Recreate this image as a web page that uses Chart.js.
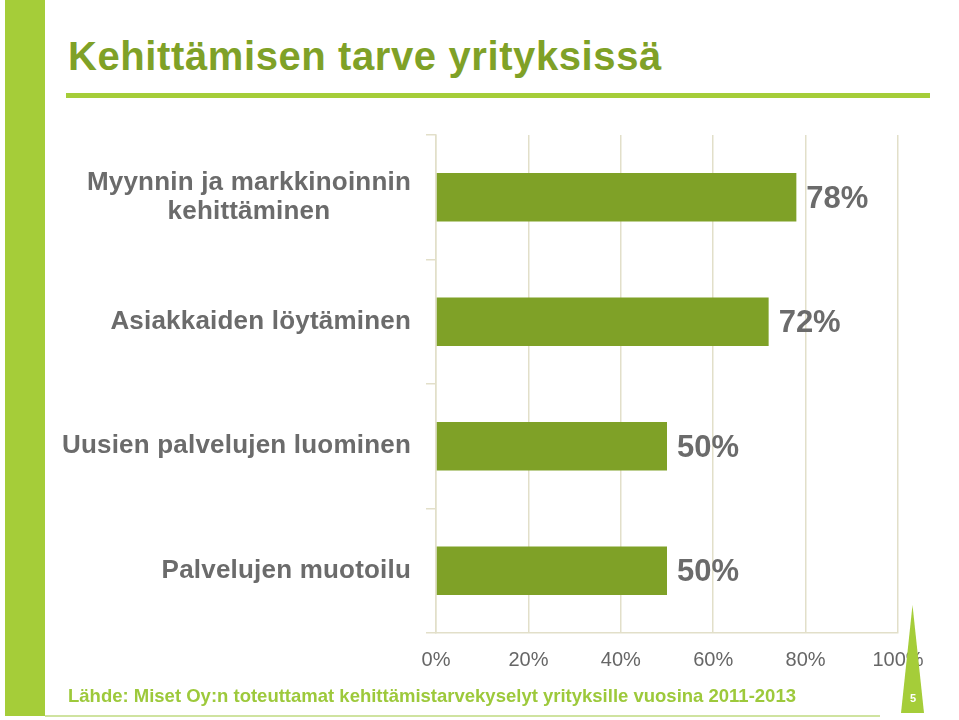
<!DOCTYPE html>
<html>
<head>
<meta charset="utf-8">
<script src="https://cdn.jsdelivr.net/npm/chart.js@4/dist/chart.umd.min.js"></script>
<style>
  body { margin: 0; background: #fff; }
  #page { position: relative; width: 959px; height: 720px; overflow: hidden; font-family: "Liberation Sans", Arial, sans-serif; }
  .sidebar { position: absolute; left: 5px; top: 0; width: 40px; height: 716px; background: #a5cd39; }
  .title { position: absolute; left: 68px; top: 34px; font-size: 40px; font-weight: bold; color: #7fa127; letter-spacing: 0.6px; white-space: nowrap; }
  .rule { position: absolute; left: 66px; top: 93px; width: 864px; height: 5px; background: #a5cd39; }
  .source { position: absolute; left: 68px; top: 685px; font-size: 18.5px; font-weight: bold; color: #9dc93b; white-space: nowrap; }
  .bottomline { position: absolute; left: 45px; top: 715px; width: 835px; height: 2px; background: #cfe3a0; }
  .spike { position: absolute; left: 901px; top: 605px; width: 23px; height: 108px; background: #a5cd39; clip-path: polygon(50% 0, 100% 100%, 0 100%); }
  .pageno { position: absolute; left: 910px; top: 692px; font-size: 11px; font-weight: bold; color: #fff; }
  #wrap { position: absolute; left: 0; top: 120px; width: 959px; height: 570px; }
</style>
</head>
<body>
<div id="page">
  <div class="sidebar"></div>
  <div class="title">Kehittämisen tarve yrityksissä</div>
  <div class="rule"></div>
  <div id="wrap"><canvas id="myChart"></canvas></div>
  <div class="source">Lähde: Miset Oy:n toteuttamat kehittämistarvekyselyt yrityksille vuosina 2011-2013</div>
  <div class="bottomline"></div>
  <div class="spike"></div>
  <div class="pageno">5</div>
</div>
<script>
  // data
  const categories = [
    ["Myynnin ja markkinoinnin", "kehittäminen"],
    ["Asiakkaiden löytäminen"],
    ["Uusien palvelujen luominen"],
    ["Palvelujen muotoilu"],
  ];
  const values = [78, 72, 50, 50];
  const xTicks = [0, 20, 40, 60, 80, 100];

  const gridColor = "#e2dfc9";
  const textGray = "#6b6b6b";

  // category labels: lines centred to each other, block right aligned
  const categoryLabels = {
    id: "categoryLabels",
    afterDraw(chart) {
      const ctx = chart.ctx;
      const yScale = chart.scales.y;
      const right = yScale.right - 25;
      ctx.save();
      ctx.font = "bold 26px 'Liberation Sans', Arial, sans-serif";
      ctx.letterSpacing = "0.2px";
      ctx.fillStyle = textGray;
      ctx.textAlign = "center";
      ctx.textBaseline = "middle";
      categories.forEach((lines, i) => {
        const yc = yScale.getPixelForValue(i);
        const w = Math.max(...lines.map((l) => ctx.measureText(l).width));
        const lh = 29;
        lines.forEach((l, j) => {
          const y = yc + (j - (lines.length - 1) / 2) * lh;
          ctx.fillText(l, right - w / 2, y);
        });
      });
      ctx.restore();
    },
  };

  // value labels at the end of each bar
  const valueLabels = {
    id: "valueLabels",
    afterDatasetsDraw(chart) {
      const ctx = chart.ctx;
      const meta = chart.getDatasetMeta(0);
      ctx.save();
      ctx.font = "bold 31px 'Liberation Sans', Arial, sans-serif";
      ctx.fillStyle = textGray;
      ctx.textAlign = "left";
      ctx.textBaseline = "middle";
      meta.data.forEach((bar, i) => {
        ctx.fillText(values[i] + "%", bar.x + 10, bar.y + 2);
      });
      ctx.restore();
    },
  };

  const ctx = document.getElementById("myChart");

  new Chart(ctx, {
    type: "bar",
    data: {
      labels: categories.map((c) => c.join(" ")),
      datasets: [
        {
          data: values,
          backgroundColor: "#7fa127",
          borderWidth: 0,
          barPercentage: 0.39,
          categoryPercentage: 1,
        },
      ],
    },
    plugins: [categoryLabels, valueLabels],
    options: {
      indexAxis: "y",
      responsive: true,
      maintainAspectRatio: false,
      animation: false,
      layout: {
        padding: { top: 15, right: 61, bottom: 0, left: 0 },
      },
      plugins: {
        legend: { display: false },
        tooltip: { enabled: false },
      },
      scales: {
        x: {
          min: 0,
          max: 100,
          afterBuildTicks: (scale) => {
            scale.ticks = xTicks.map((v) => ({ value: v }));
          },
          afterFit: (scale) => {
            scale.height = 57;
          },
          ticks: {
            callback: (v) => v + "%",
            color: "#666",
            padding: 15,
            font: { size: 20, family: "'Liberation Sans', Arial, sans-serif" },
          },
          grid: {
            color: gridColor,
            lineWidth: 1.5,
            drawTicks: false,
          },
          border: { color: gridColor, width: 1.5 },
        },
        y: {
          afterFit: (scale) => {
            scale.width = 436;
          },
          ticks: { display: false },
          grid: {
            color: gridColor,
            lineWidth: 1.5,
            drawOnChartArea: false,
            drawTicks: true,
            tickLength: 10,
          },
          border: { color: gridColor, width: 1.5 },
        },
      },
    },
  });
</script>
</body>
</html>
